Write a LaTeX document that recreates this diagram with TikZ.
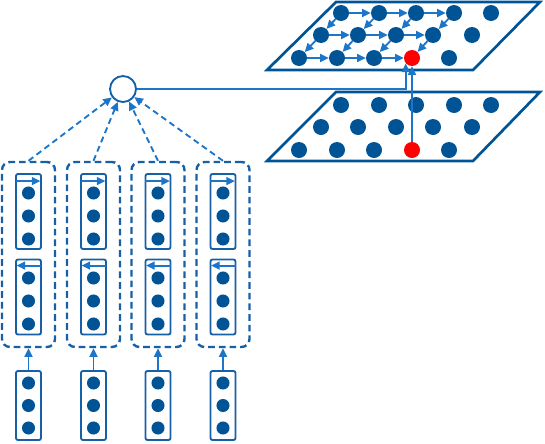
\documentclass[tikz,border=0pt]{standalone}
\usetikzlibrary{arrows.meta,calc}
\definecolor{dotblue}{RGB}{0,84,150}
\definecolor{lineblue}{RGB}{28,117,200}
\definecolor{boxblue}{RGB}{22,96,168}
\begin{document}
\begin{tikzpicture}[x=0.75pt,y=-0.75pt,
  pdot/.style={circle,fill=dotblue,inner sep=0pt,minimum size=12pt},
  pred/.style={circle,fill=red,inner sep=0pt,minimum size=12pt},
  ldot/.style={circle,fill=dotblue,inner sep=0pt,minimum size=9.8pt},
  layerpg/.style={draw=dotblue,line width=2pt,line join=miter},
  arr/.style={draw=lineblue,line width=1.4pt,-{Triangle[length=6.5pt,width=6pt]}},
  darr/.style={arr,dash pattern=on 4.5pt off 3pt},
  dbox/.style={draw=boxblue,line width=1.8pt,dash pattern=on 5pt off 3pt,rounded corners=6pt,minimum width=39.75pt,minimum height=138.75pt,inner sep=0pt},
  ibox/.style={draw=boxblue,line width=1.4pt,rounded corners=1.5pt,minimum width=18.75pt,minimum height=56.25pt,inner sep=0pt},
  bbox/.style={ibox,minimum height=51.75pt},
  neuron/.style={circle,draw=boxblue,line width=1.4pt,fill=white,minimum size=19.5pt,inner sep=0pt}
]
\useasboundingbox (0,0) rectangle (545,443);
% planes
\draw[layerpg] (267,161) -- (473,161) -- (540,92) -- (336,92) -- cycle;
\draw[layerpg] (267,70) -- (473,70) -- (540,2) -- (336,2) -- cycle;
% bottom plane dots
\foreach \x [count=\i] in {341,379,416,454,491} \node[pdot] (b1\i) at (\x,105) {};
\foreach \x [count=\i] in {321,358,396,433,472} \node[pdot] (b2\i) at (\x,127) {};
\foreach \x/\i in {299/1,337/2,374/3,449/5} \node[pdot] (b3\i) at (\x,150) {};
\node[pred] (b34) at (412,150) {};
% top plane dots
\foreach \x [count=\i] in {341,379,416,454,491} \node[pdot] (a1\i) at (\x,13) {};
\foreach \x [count=\i] in {321,358,396,433,472} \node[pdot] (a2\i) at (\x,35) {};
\foreach \x/\i in {299/1,337/2,374/3,449/5} \node[pdot] (a3\i) at (\x,58) {};
\node[pred] (a34) at (412,58) {};
% arrows in top plane
\foreach \r in {1,2,3} \foreach \c/\d in {1/2,2/3,3/4} \draw[arr] (a\r\c) -- (a\r\d);
\foreach \r/\s in {1/2,2/3} \foreach \c in {1,2,3,4} \draw[arr] (a\r\c) -- (a\s\c);
% neuron
\node[neuron] (n) at (123,89) {};
\draw[arr] (n) -| (a34.221);
\draw[arr] (b34) -- (a34);
% left columns
\foreach \cx [count=\k] in {28.5,93.5,158,223} {
  \node[dbox] (g\k) at (\cx,254.5) {};
  \node[ibox] (u\k) at (\cx,211.5) {};
  \node[ibox] (l\k) at (\cx,297) {};
  \node[bbox] (e\k) at (\cx,405.5) {};
  \foreach \y [count=\j] in {193,216,239,278,301,324,383,405.5,428} \node[ldot] (d\k-\j) at (\cx,\y) {};
  \draw[arr] ($(u\k.north west)+(0.5,8)$) -- ($(u\k.north east)+(-1.5,8)$);
  \draw[arr] ($(l\k.north east)+(-0.5,7)$) -- ($(l\k.north west)+(1.5,7)$);
  \draw[arr] (e\k) -- (g\k);
  \draw[darr] (g\k.north) -- (n);
}
\end{tikzpicture}
\end{document}
